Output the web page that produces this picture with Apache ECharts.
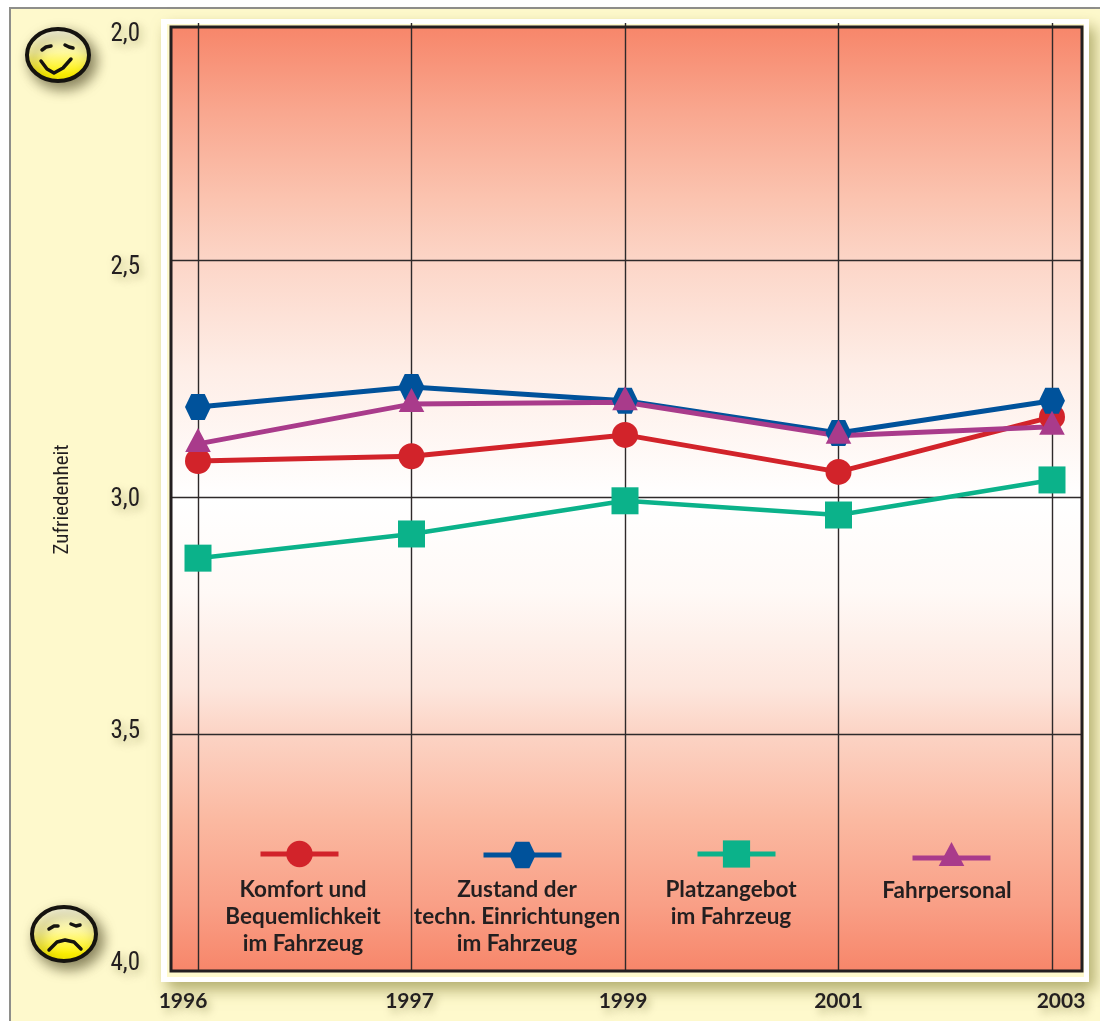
<!DOCTYPE html>
<html>
<head>
<meta charset="utf-8">
<style>html,body{margin:0;padding:0;background:#fff}#chart{width:1100px;height:1021px}</style>
<script src="https://cdn.jsdelivr.net/npm/echarts@6/dist/echarts.min.js"></script>
</head>
<body>
<div id="chart"></div>
<script>
// Survey years and satisfaction scores (school-grade scale, 2 = best shown)
const years = ['1996', '1997', '1999', '2001', '2003'];
const komfort = [2.924, 2.914, 2.869, 2.947, 2.831];
const zustand = [2.810, 2.768, 2.797, 2.865, 2.797];
const platz = [3.129, 3.078, 3.008, 3.038, 2.964];
const personal = [2.888, 2.804, 2.800, 2.871, 2.852];

const nameKomfort = 'Komfort und\nBequemlichkeit\nim Fahrzeug';
const nameZustand = 'Zustand der\ntechn. Einrichtungen\nim Fahrzeug';
const namePlatz = 'Platzangebot\nim Fahrzeug';
const namePersonal = 'Fahrpersonal';
const axisTitle = 'Zufriedenheit';

// Year labels sit slightly off their grid lines; right padding moves a centred label left
const yearLabelPad = [[0, 30, 0, 0], [0, 4, 0, 0], [0, 4, 0, 0], [0, 0, 0, 0], [0, 0, 0, 18]];

const RED = '#D2232A', BLUE = '#00529B', GREEN = '#0BB28A', PURPLE = '#A93B8B';
const HEXAGON = 'path://M0 50L24 0L76 0L100 50L76 100L24 100Z';
// Triangle whose box centre falls at two thirds of its height, so the line passes through its body
const TRIANGLE = 'path://M50 0L90 75L10 75ZM0 100L0 100M100 100L100 100';

const INK = '#231F20';
const TAN = 'rgba(120,115,60,0.55)';
const NUM_FONT = '"Liberation Sans Narrow","Roboto Condensed",Roboto,sans-serif';
const TXT_FONT = 'Lato,"Open Sans",sans-serif';

function line(name, data, color, symbol, size, width) {
  return {
    type: 'line', name, data, xAxisIndex: 0, yAxisIndex: 0,
    symbol, symbolSize: size, showAllSymbol: true,
    lineStyle: { color, width }, itemStyle: { color, opacity: 1 }, silent: true
  };
}
function legendAt(name, cx, cy, itemHeight, width) {
  return {
    data: [name], left: cx - 41, top: cy - itemHeight / 2, padding: 0,
    itemWidth: 78, itemHeight, selectedMode: false, formatter: () => '',
    orient: 'horizontal', itemGap: 0, textStyle: { fontSize: 1 },
    lineStyle: { width }
  };
}
function caption(text, cx, top) {
  return {
    type: 'text', z: 5, x: cx, y: top,
    style: {
      text, fill: INK, font: 'bold 22.5px ' + TXT_FONT, align: 'center', verticalAlign: 'top',
      lineHeight: 27, shadowColor: 'rgba(255,240,230,0.85)', shadowBlur: 14, shadowOffsetY: 4
    }
  };
}
function face(cx, cy, rx, ry, eyes, mouth) {
  const fill = {
    type: 'linear', x: 0, y: 0, x2: 0, y2: 1,
    colorStops: [{ offset: 0, color: '#FFFFF0' }, { offset: 0.45, color: '#FFF9A0' }, { offset: 0.85, color: '#FFF200' }, { offset: 1, color: '#FFF200' }]
  };
  const stroke = { stroke: '#15130F', lineWidth: 3.5, fill: null, lineCap: 'round', lineJoin: 'round' };
  return [
    {
      type: 'ellipse', z: 3, shape: { cx, cy, rx, ry }, rotation: 0,
      style: { fill, stroke: '#15130F', lineWidth: 4, shadowColor: 'rgba(70,65,30,0.65)', shadowBlur: 13, shadowOffsetX: 5, shadowOffsetY: 6 }
    },
    ...eyes.map(e => ({ type: 'polyline', z: 4, shape: { points: e }, style: stroke })),
    { type: 'polyline', z: 4, shape: { points: mouth }, style: stroke }
  ];
}

const plotFill = {
  type: 'linear', x: 0, y: 0, x2: 0, y2: 1,
  colorStops: [
    { offset: 0, color: '#F7866A' }, { offset: 0.09, color: '#F9A78F' }, { offset: 0.18, color: '#FBC3AF' },
    { offset: 0.25, color: '#FCD6C8' }, { offset: 0.36, color: '#FEEDE6' }, { offset: 0.5, color: '#FFFFFF' },
    { offset: 0.6, color: '#FFF9F6' }, { offset: 0.7, color: '#FDE6DD' }, { offset: 0.75, color: '#FCD3C4' },
    { offset: 0.84, color: '#FBB9A1' }, { offset: 0.93, color: '#F99F86' }, { offset: 1, color: '#F7866A' }
  ]
};

const chart = echarts.init(document.getElementById('chart'), null, { renderer: 'canvas' });
chart.setOption({
  animation: false,
  backgroundColor: '#FFFFFF',
  graphic: [
    // sheet, white mat with its drop shadow, plot background and frame
    { type: 'rect', z: -10, shape: { x: 10, y: 8, width: 1095, height: 1020 }, style: { fill: '#FEF9CC', stroke: '#8E8E8A', lineWidth: 2 } },
    { type: 'rect', z: -9, shape: { x: 161, y: 19, width: 928, height: 963 }, style: { fill: '#FFFFFF', shadowColor: 'rgba(130,125,50,0.6)', shadowBlur: 14, shadowOffsetX: 6, shadowOffsetY: 8 } },
    { type: 'rect', z: -8, shape: { x: 167, y: 24, width: 917, height: 953 }, style: { fill: '#FEF9CC' } },
    { type: 'rect', z: -7, shape: { x: 171, y: 27, width: 911, height: 944 }, style: { fill: plotFill } },
    { type: 'rect', z: 1, shape: { x: 171, y: 27, width: 911, height: 944 }, style: { fill: null, stroke: INK, lineWidth: 3 } },
    ...face(58, 55, 31, 26,
      [[[42, 50], [46, 47], [51, 46]], [[65, 45], [69, 47], [73, 48]]],
      [[41, 61], [47, 69], [54, 73], [63, 68], [71, 59]]),
    ...face(64, 934, 32, 27,
      [[[49, 929], [54, 926], [58, 926]], [[71, 924], [76, 926], [80, 925]]],
      [[49, 950], [57, 942], [65, 940], [74, 942], [81, 949]]),
    caption(nameKomfort, 303, 876),
    caption(nameZustand, 517, 876),
    caption(namePlatz, 731, 876),
    caption(namePersonal, 947, 877)
  ],
  grid: [
    { left: 198, right: 48, top: 23, bottom: 50 },
    { left: 171, right: 18, top: 23, bottom: 50 },
    { left: 150, right: 18, top: 35, bottom: 57 }
  ],
  xAxis: [
    {
      gridIndex: 0, type: 'category', boundaryGap: false,
      data: years.map((y, i) => ({ value: y, textStyle: { padding: yearLabelPad[i] } })),
      axisLine: { show: false }, axisTick: { show: false },
      axisLabel: {
        interval: 0, margin: 20, color: INK, fontFamily: TXT_FONT, fontWeight: 'bold', fontSize: 21,
        textShadowColor: TAN, textShadowBlur: 8, textShadowOffsetX: 3, textShadowOffsetY: 4
      },
      splitLine: { show: true, interval: 0, lineStyle: { color: '#2E2A2B', width: 1.4 } }
    },
    { gridIndex: 1, type: 'category', show: false, data: years },
    { gridIndex: 2, type: 'category', show: false, data: years }
  ],
  yAxis: [
    { gridIndex: 0, type: 'value', inverse: true, min: 2, max: 4, interval: 0.5, show: false },
    {
      gridIndex: 1, type: 'value', inverse: true, min: 2, max: 4, interval: 0.5,
      axisLine: { show: false }, axisTick: { show: false }, axisLabel: { show: false },
      splitLine: { show: true, showMinLine: false, showMaxLine: false, lineStyle: { color: '#2E2A2B', width: 1.4 } }
    },
    {
      // scale labels run on a slightly tighter span than the grid lines
      gridIndex: 2, type: 'value', inverse: true, min: 2, max: 4, interval: 0.5,
      axisLine: { show: false }, axisTick: { show: false }, splitLine: { show: false },
      axisLabel: {
        margin: 10, color: INK, fontFamily: NUM_FONT, fontSize: 25,
        formatter: v => v.toFixed(1).replace('.', ','),
        textShadowColor: TAN, textShadowBlur: 8, textShadowOffsetX: 3, textShadowOffsetY: 4
      },
      name: axisTitle, nameLocation: 'middle', nameRotate: 90, nameGap: 77,
      nameTextStyle: { color: INK, fontFamily: NUM_FONT, fontSize: 21 }
    }
  ],
  legend: [
    legendAt(nameKomfort, 299, 854, 33, 5),
    legendAt(nameZustand, 522, 855, 33, 5),
    legendAt(namePlatz, 736, 854, 34, 5),
    legendAt(namePersonal, 951, 858, 40, 5)
  ],
  series: [
    line(nameKomfort, komfort, RED, 'circle', 26, 5),
    line(nameZustand, zustand, BLUE, HEXAGON, 26, 5),
    line(namePlatz, platz, GREEN, 'rect', 27, 4.5),
    line(namePersonal, personal, PURPLE, TRIANGLE, 32, 5)
  ]
});
</script>
</body>
</html>
